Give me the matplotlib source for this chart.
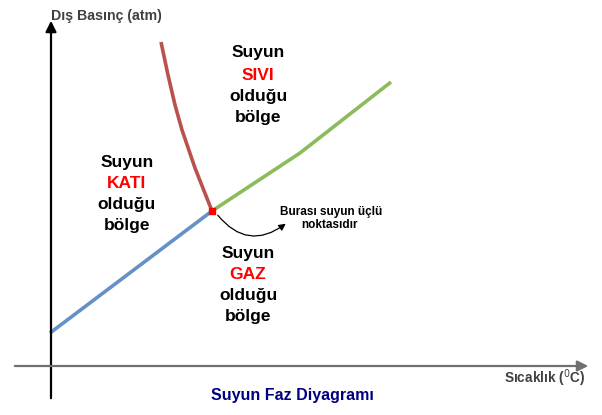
import matplotlib
matplotlib.use("Agg")
import matplotlib.pyplot as plt

plt.rcParams['font.family'] = ['Liberation Sans', 'DejaVu Sans']

# phase boundaries (drawing coordinates, y grows downwards)
solid_gas_x = [50, 212]
solid_gas_y = [333, 211]
solid_liquid_x = [161, 168, 175, 182, 195, 212]
solid_liquid_y = [42, 75, 105, 130, 168, 211]
liquid_gas_x = [212, 300, 391]
liquid_gas_y = [211, 153, 82]
triple_x, triple_y = 212, 211

regions = [
    (258, [52, 75, 96, 117], ["Suyun", "SIVI", "olduğu", "bölge"]),
    (127, [162, 183, 204, 225], ["Suyun", "KATI", "olduğu", "bölge"]),
    (248, [253, 274, 295, 316], ["Suyun", "GAZ", "olduğu", "bölge"]),
]

fig = plt.figure(figsize=(6.02, 4.15), dpi=100)
ax = fig.add_axes([0, 0, 1, 1])
ax.set_xlim(0, 602)
ax.set_ylim(415, 0)
ax.axis('off')

# axes arrows
ax.annotate('', xy=(51, 18), xytext=(51, 401),
            arrowprops=dict(arrowstyle='-|>', color='black', lw=1.6, mutation_scale=16))
ax.annotate('', xy=(591, 366), xytext=(12, 366),
            arrowprops=dict(arrowstyle='-|>', color='#707070', lw=1.6, mutation_scale=16))

ax.plot(solid_gas_x, solid_gas_y, color='#6690c8', lw=2.6, solid_capstyle='butt')
ax.plot(solid_liquid_x, solid_liquid_y, color='#bb514d', lw=2.6, solid_capstyle='butt')
ax.plot(liquid_gas_x, liquid_gas_y, color='#8cbb5c', lw=2.6, solid_capstyle='butt')
ax.plot([triple_x], [triple_y], 's', color='red', ms=5)

ax.annotate('', xy=(288, 222), xytext=(216, 213),
            arrowprops=dict(arrowstyle='-|>', color='black', lw=0.9, mutation_scale=10,
                            connectionstyle='arc3,rad=0.5'))
ax.text(331, 212, 'Burası suyun üçlü', fontsize=8.5, fontweight='bold', ha='center', va='center')
ax.text(330, 225, 'noktasıdır', fontsize=8.5, fontweight='bold', ha='center', va='center')

for x, ys, words in regions:
    for y, w in zip(ys, words):
        c = 'red' if w in ('SIVI', 'KATI', 'GAZ') else 'black'
        ax.text(x, y, w, fontsize=12.5, fontweight='bold', color=c, ha='center', va='center')

ax.text(51, 16, 'Dış Basınç (atm)', fontsize=10.2, fontweight='bold', color='#404040', va='center')
ax.text(545, 378, 'Sıcaklık ($^{0}$C)', fontsize=9.8, fontweight='bold', color='#404040',
        ha='center', va='center')
ax.text(292, 395, 'Suyun Faz Diyagramı', fontsize=11.5, fontweight='bold', color='#000080',
        ha='center', va='center')

fig.savefig('out.png', dpi=100)
